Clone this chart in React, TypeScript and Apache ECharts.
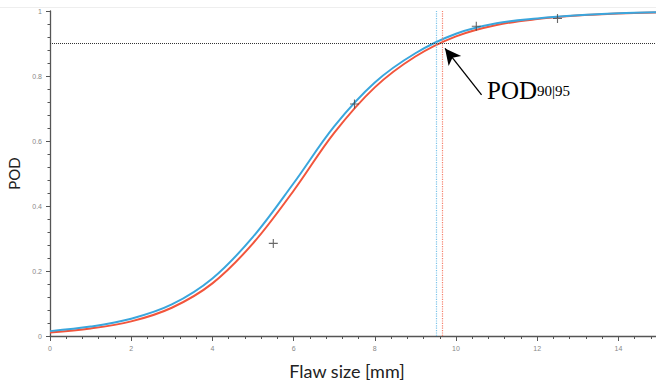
import React, { useEffect, useRef } from "react";
import * as echarts from "echarts";

const flawSizes = [0, 1, 2, 3, 4, 5, 6, 7, 8, 9, 10, 11, 12, 13, 14, 15];
const podBlue = [0.015, 0.029, 0.053, 0.097, 0.177, 0.305, 0.47, 0.645, 0.78, 0.87, 0.93, 0.962, 0.977, 0.987, 0.993, 0.996];
const podRed = [0.011, 0.023, 0.045, 0.087, 0.162, 0.285, 0.447, 0.625, 0.765, 0.86, 0.922, 0.957, 0.975, 0.986, 0.992, 0.996];
const hitX = [5.5, 7.5, 10.5, 12.5];
const hitY = [0.285, 0.714, 0.953, 0.977];
const podLevel = 0.9;
const a9095Blue = 9.52;
const a9095Red = 9.66;
const arrowTail = [10.63, 0.742];
const arrowHead = [9.73, 0.885];

const BLUE = "#3aa6dd";
const RED = "#f2553c";

export default function App() {
  const ref = useRef<HTMLDivElement>(null);
  useEffect(() => {
    const chart = echarts.init(ref.current!, null, { renderer: "svg" });
    const plus = "path://M3.5,0h1v3.5h3.5v1h-3.5v3.5h-1v-3.5h-3.5v-1h3.5z";
    chart.setOption({
      animation: false,
      grid: { left: 50, right: -3, top: 11, bottom: 48, outerBoundsMode: "none", containLabel: false },
      xAxis: {
        type: "value",
        min: 0,
        max: 15,
        interval: 2,
        axisLine: { lineStyle: { color: "#555", width: 1.3 } },
        axisTick: { length: 5, lineStyle: { color: "#555" } },
        minorTick: { show: true, splitNumber: 5, length: 3, lineStyle: { color: "#555" } },
        axisLabel: { color: "#888", fontSize: 7, margin: 9, fontFamily: "Liberation Sans", showMaxLabel: false },
        splitLine: { show: false },
      },
      yAxis: {
        type: "value",
        min: 0,
        max: 1,
        interval: 0.2,
        name: "POD",
        nameLocation: "middle",
        nameGap: 28,
        nameTextStyle: { fontSize: 15, color: "#222", fontFamily: "Lato" },
        axisLine: { show: true, lineStyle: { color: "#555", width: 1.3 } },
        axisTick: { show: true, length: 4, lineStyle: { color: "#555" } },
        minorTick: { show: true, splitNumber: 5, length: 2.5, lineStyle: { color: "#555" } },
        axisLabel: { color: "#888", fontSize: 7, margin: 8, fontFamily: "Liberation Sans" },
        splitLine: { show: false },
      },
      series: [
        {
          type: "line",
          data: flawSizes.map((x, i) => [x, podRed[i]]),
          smooth: 0.35,
          showSymbol: false,
          lineStyle: { color: RED, width: 2 },
          z: 3,
          markLine: {
            silent: true,
            symbol: ["none", "none"],
            label: { show: false },
            lineStyle: { color: "#f5806c", type: "dotted", width: 1.2 },
            data: [{ xAxis: a9095Red, lineStyle: { color: "#f5806c", type: "dotted", width: 1.2 } }],
          },
        },
        {
          type: "line",
          data: flawSizes.map((x, i) => [x, podBlue[i]]),
          smooth: 0.35,
          showSymbol: false,
          lineStyle: { color: BLUE, width: 2 },
          z: 4,
          markLine: {
            silent: true,
            symbol: ["none", "none"],
            label: { show: false },
            lineStyle: { color: "#7cc4ea", type: "dotted", width: 1.2 },
            data: [{ xAxis: a9095Blue, lineStyle: { color: "#7cc4ea", type: "dotted", width: 1.2 } }],
          },
        },
        {
          type: "scatter",
          data: hitX.map((x, i) => [x, hitY[i]]),
          symbol: plus,
          symbolSize: 9,
          itemStyle: { color: "#444" },
          z: 5,
          markLine: {
            silent: true,
            symbol: ["none", "none"],
            label: { show: false },
            lineStyle: { color: "#333", type: "dotted", width: 1 },
            data: [
              { yAxis: podLevel },
              [
                { coord: arrowTail, symbol: "none" },
                {
                  coord: arrowHead,
                  symbol: "arrow",
                  symbolSize: [12, 16],
                  lineStyle: { type: "solid", color: "#000", width: 1.3 },
                },
              ],
            ],
          },
        },
      ],
      graphic: [
        {
          type: "line",
          shape: { x1: 0, y1: 7.5, x2: 656, y2: 7.5 },
          style: { stroke: "#eeeeee", lineWidth: 1 },
        },
        {
          type: "text",
          x: 347,
          y: 371,
          style: {
            text: "Flaw size [mm]",
            fontSize: 18,
            fontFamily: "Lato",
            fill: "#222",
            align: "center",
            verticalAlign: "middle",
          },
        },
        {
          type: "text",
          x: 487,
          y: 103,
          style: {
            text: "{a|POD}{b|90|95}",
            verticalAlign: "bottom",
            rich: {
              a: { fontSize: 25, fontFamily: "Liberation Serif", fill: "#000" },
              b: { fontSize: 15, fontFamily: "Liberation Serif", fill: "#000" },
            },
          },
        },
      ],
    });
    return () => chart.dispose();
  }, []);
  return (
    <div
      ref={ref}
      style={{ position: "fixed", left: 0, top: 0, width: 656, height: 384, background: "#fff" }}
    />
  );
}
